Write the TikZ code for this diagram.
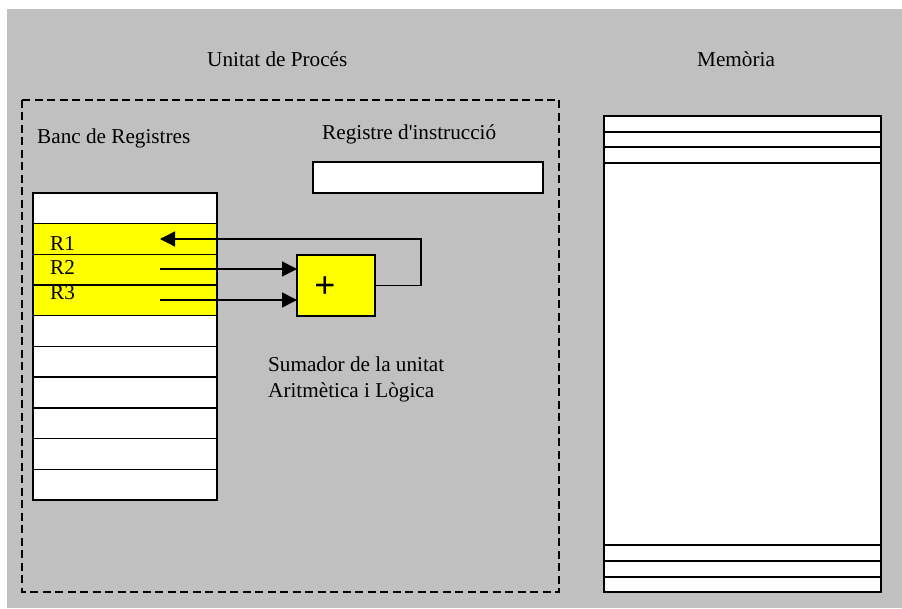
\documentclass[tikz,border=0pt]{standalone}
\usepackage{fontspec}
\setmainfont{Liberation Serif}
\newfontfamily\plusfont{Liberation Sans}
\usetikzlibrary{arrows.meta}
\definecolor{bggray}{HTML}{C0C0C0}
\definecolor{regyellow}{HTML}{FFFF00}
\begin{document}
\begin{tikzpicture}[x=1pt,y=-1pt,
  txt/.style={font=\fontsize{21.2}{25}\selectfont, inner sep=0pt, anchor=base west},
  cell/.style={draw=black, fill=white, line width=1.4pt, inner sep=0pt, outer sep=0pt, anchor=north west},
  regrow/.style={cell, minimum width=184pt, minimum height=30.7pt},
  memrow/.style={cell, minimum width=277pt},
  conn/.style={line width=1.4pt, draw=black},
  arr/.style={conn, -{Triangle[length=15pt,width=15pt]}}
]
\useasboundingbox (0,0) rectangle (902,609);
\fill[bggray] (7,9) rectangle (902,608);
% processing unit dashed frame
\draw[line width=1.6pt, dash pattern=on 8pt off 4.5pt] (22,100) rectangle (559,592);
\node[txt] (tunitat) at (207,67) {Unitat de Procés};
\node[txt] (tmem) at (697,67) {Memòria};
\node[txt] (tbanc) at (37,144) {Banc de Registres};
\node[txt] (tinstr) at (322,140) {Registre d\textquotesingle instrucció};
% instruction register
\node[cell, minimum width=230pt, minimum height=31pt] (ir) at (313,162) {};
% register bank
\foreach \i in {0,...,9} {
  \node[regrow] (reg\i) at (33,193+\i*30.7) {};
}
\foreach \i in {1,2,3} {
  \node[regrow, fill=regyellow] at (reg\i.north west) {};
}
\node[txt] (lr1) at (50,251) {R1};
\node[txt] (lr2) at (50,275) {R2};
\node[txt] (lr3) at (50,300) {R3};
% adder
\node[cell, fill=regyellow, minimum width=78pt, minimum height=61pt] (plus) at (297,255) {};
\node[font=\plusfont\fontsize{36}{36}\selectfont, inner sep=0pt] (plustxt) at (325,287) {+};
\coordinate (r1tip) at (160,239);
\coordinate (r2src) at (160,269);
\coordinate (r3src) at (160,300);
\draw[arr] (plus.east) -- ++(46,0) |- (r1tip);
\draw[arr] (r2src) -- (plus.west |- r2src);
\draw[arr] (r3src) -- (plus.west |- r3src);
\node[txt] (tsum1) at (268,372) {Sumador de la unitat};
\node[txt] (tsum2) at (268,397) {Aritmètica i Lògica};
% memory
\node[memrow, minimum height=16pt] (m1) at (604,116) {};
\node[memrow, minimum height=15pt] (m2) at (604,132) {};
\node[memrow, minimum height=16pt] (m3) at (604,147) {};
\node[memrow, minimum height=382pt] (m4) at (604,163) {};
\node[memrow, minimum height=16pt] (m5) at (604,545) {};
\node[memrow, minimum height=16pt] (m6) at (604,561) {};
\node[memrow, minimum height=15pt] (m7) at (604,577) {};
\end{tikzpicture}
\end{document}
